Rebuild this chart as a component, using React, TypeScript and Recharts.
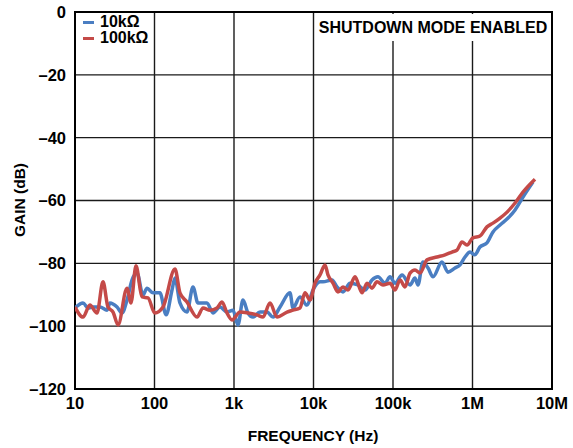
import React from "react";
import {
  CartesianGrid,
  Customized,
  Line,
  LineChart,
  ReferenceArea,
  XAxis,
  YAxis,
} from "recharts";

// frequency (Hz) and gain (dB)
const freq10k = [
  10, 12.6, 14.6, 16.8, 20.6, 25.3, 27.5, 33.8, 39, 45.1, 52.1, 60.3, 71.6, 80.5, 95.8, 117, 140, 166, 181,
  209, 256, 305, 352, 457, 544, 667, 816, 971, 1122, 1297, 1500, 1734, 2124, 2600, 3097, 3793, 5063, 5521,
  6761, 8277, 9861, 12080, 13160, 17100, 19770, 23500, 28800, 36300, 44500, 54400, 64700, 79300, 91700,
  106000, 130000, 164000, 189000, 206000, 238000, 276000, 319000, 413000, 492000, 602000, 697000, 805000,
  931000, 1070000, 1240000, 1520000, 1810000, 2220000, 2800000, 3430000, 4320000, 5770000,
];
const gain10k = [
  -94.2, -92.6, -94.2, -93.9, -93.9, -94.9, -92.6, -93.9, -95.8, -91.7, -85.3, -83.1, -90.1, -87.9, -89.4,
  -89.4, -96.4, -88.5, -84.7, -92.6, -95.5, -87.5, -92.6, -92.6, -95.8, -93.9, -95.5, -94.9, -99.6, -91.7,
  -95.8, -97.1, -95.5, -95.5, -97.1, -93.9, -89.4, -94.2, -90.7, -93.3, -88.5, -85.9, -85.9, -85.3, -87.5,
  -89.1, -86.3, -86.9, -88.5, -85.3, -84.3, -86.3, -84.3, -86.3, -83.7, -86.9, -84.7, -86.9, -79.6, -81.5,
  -84.3, -79.6, -82.8, -81.5, -80.5, -78.0, -76.4, -77.3, -74.8, -73.5, -70.0, -67.8, -65.6, -63.0, -58.9,
  -54.1,
];

const freq100k = [
  10, 12.6, 15.4, 18.9, 22.5, 26, 30.1, 34.8, 45.1, 50.6, 58.5, 69.6, 82.8, 101, 128, 181, 209, 256, 343,
  408, 499, 611, 706, 816, 944, 1189, 1500, 1945, 2317, 2838, 3475, 4645, 5521, 6761, 7816, 9036, 10450,
  12080, 13960, 15210, 17590, 20330, 23500, 27160, 33270, 40740, 47100, 54400, 62900, 74800, 91700, 106000,
  122500, 141600, 163700, 189200, 218800, 268000, 357000, 451000, 552000, 638000, 738000, 853000, 1010000,
  1240000, 1520000, 1810000, 2220000, 2720000, 3430000, 4320000, 6110000,
];
const gain100k = [
  -93.9, -97.1, -93.3, -95.8, -85.9, -93.9, -95.5, -99.6, -87.9, -92.6, -80.8, -90.7, -91.0, -95.8, -93.9,
  -81.8, -89.4, -92.3, -97.1, -94.2, -94.9, -94.2, -92.3, -95.8, -98.0, -95.5, -95.8, -96.4, -97.1, -92.6,
  -97.1, -95.5, -94.9, -94.2, -89.4, -91.7, -86.3, -83.7, -80.5, -83.7, -86.3, -89.1, -87.5, -88.5, -84.3,
  -89.4, -86.3, -87.9, -85.9, -86.9, -86.3, -88.5, -85.3, -87.5, -83.1, -82.1, -83.1, -78.9, -78.0, -77.3,
  -76.4, -75.8, -73.2, -74.2, -71.9, -71.3, -68.4, -67.2, -65.6, -63.7, -60.8, -57.3, -53.2,
];

const xTicks = [10, 100, 1000, 10000, 100000, 1000000, 10000000];
const xTickLabels = ["10", "100", "1k", "10k", "100k", "1M", "10M"];
const yTicks = [0, -20, -40, -60, -80, -100, -120];

const series10k = freq10k.map((f, i) => ({ f, db: gain10k[i] }));
const series100k = freq100k.map((f, i) => ({ f, db: gain100k[i] }));

const BLUE = "#4a7ec2";
const RED = "#c44a48";
const FONT = "'Liberation Sans', Arial, sans-serif";

const tickStyle = { fontFamily: FONT, fontSize: 16.5, fontWeight: 700, fill: "#000" };

function AxisTitles() {
  return (
    <g fontFamily={FONT} fontWeight={700} fontSize={15.5} fill="#000">
      <text x={313} y={441} textAnchor="middle">
        FREQUENCY (Hz)
      </text>
      <text x={25} y={200} textAnchor="middle" transform="rotate(-90 25 200)">
        GAIN (dB)
      </text>
    </g>
  );
}

function LegendBox() {
  const items = [
    { label: "10kΩ", color: BLUE },
    { label: "100kΩ", color: RED },
  ];
  return (
    <div
      style={{
        position: "absolute",
        left: 83,
        top: 14,
        fontFamily: FONT,
        fontWeight: 700,
        fontSize: 16,
        lineHeight: "16px",
      }}
    >
      {items.map((it) => (
        <div key={it.label} style={{ display: "flex", alignItems: "center" }}>
          <span
            style={{ display: "inline-block", width: 11, height: 3, background: it.color, marginRight: 6 }}
          />
          <span>{it.label}</span>
        </div>
      ))}
    </div>
  );
}

export default function App() {
  return (
    <div style={{ position: "absolute", left: 0, top: 0, width: 573, height: 448, background: "#fff" }}>
      <LineChart width={573} height={448} margin={{ top: 12, right: 21, bottom: 0, left: 0 }}>
        <CartesianGrid stroke="#1a1a1a" strokeWidth={1.4} />
        <XAxis
          dataKey="f"
          type="number"
          scale="log"
          domain={[10, 10000000]}
          ticks={xTicks}
          tickFormatter={(v: number) => xTickLabels[xTicks.indexOf(v)] ?? ""}
          tick={tickStyle}
          tickLine={false}
          axisLine={false}
          height={59}
          tickSize={6}
          tickMargin={2}
          allowDataOverflow
        />
        <YAxis
          type="number"
          domain={[-120, 0]}
          ticks={yTicks}
          tickFormatter={(v: number) => (v === 0 ? "0" : "–" + Math.abs(v))}
          tick={tickStyle}
          tickLine={false}
          axisLine={false}
          width={75}
          tickSize={7}
          tickMargin={2}
          allowDataOverflow
        />
        <ReferenceArea
          x1={10}
          x2={10000000}
          y1={-120}
          y2={0}
          fill="none"
          stroke="#000"
          strokeWidth={2}
          ifOverflow="visible"
        />
        <Line
          data={series10k}
          dataKey="db"
          type="monotone"
          stroke={BLUE}
          strokeWidth={3.5}
          dot={false}
          isAnimationActive={false}
        />
        <Line
          data={series100k}
          dataKey="db"
          type="monotone"
          stroke={RED}
          strokeWidth={3.5}
          dot={false}
          isAnimationActive={false}
        />
        <Customized component={AxisTitles} />
      </LineChart>
      <LegendBox />
      <div
        style={{
          position: "absolute",
          left: 316,
          top: 14,
          width: 234,
          height: 27,
          background: "#fff",
          fontFamily: FONT,
          fontWeight: 700,
          fontSize: 16,
          lineHeight: "27px",
          textAlign: "center",
        }}
      >
        SHUTDOWN MODE ENABLED
      </div>
    </div>
  );
}
